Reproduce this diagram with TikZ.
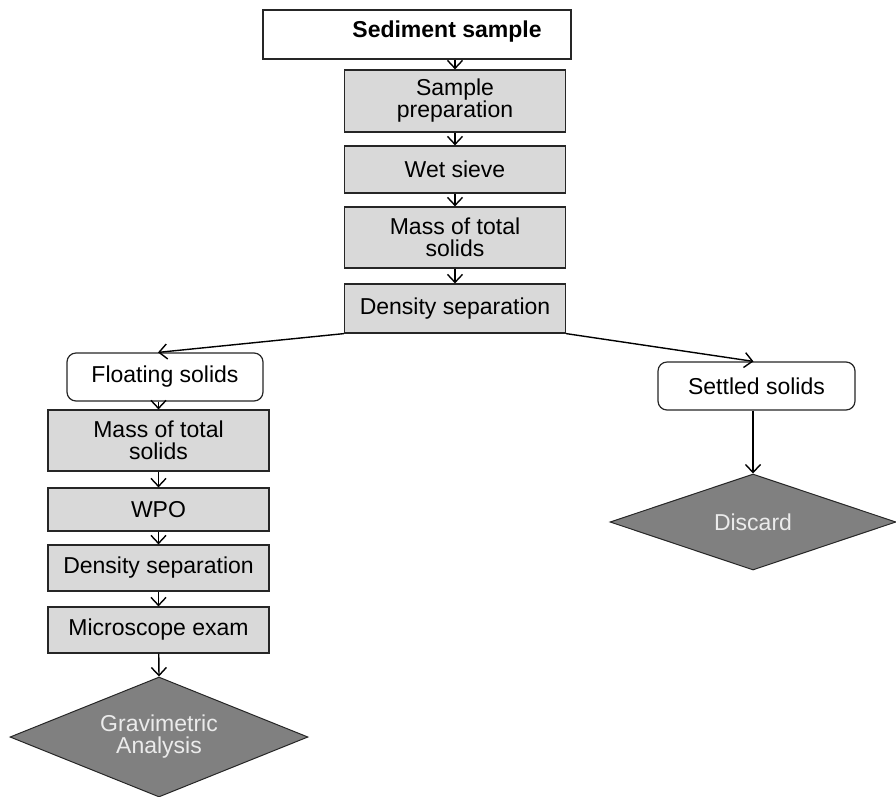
\documentclass[tikz,border=0pt]{standalone}
\usepackage{fontspec}
\setmainfont{Liberation Sans}
\usetikzlibrary{shapes.geometric,arrows.meta,calc}

\tikzset{
  boxtext/.style={font=\fontsize{23}{22}\selectfont, align=center, inner sep=0pt},
  stepbox/.style={boxtext, draw=black!85, line width=1.2pt, fill=black!15, minimum width=221pt},
  resultbox/.style={boxtext, draw=black!85, line width=1.2pt, fill=white, rounded corners=9pt, minimum width=196pt, minimum height=48pt},
  endbox/.style={boxtext, diamond, draw=black!85, line width=1pt, fill=black!50, text=black!8},
  flow/.style={line width=1.4pt, -{Straight Barb[length=8pt,width=15pt,line width=1.4pt]}}
}

\begin{document}
\begin{tikzpicture}[x=1pt,y=-1pt]
    \useasboundingbox (0,0) rectangle (896,796);

    % Main column
    \node [boxtext, draw=black!85, line width=1.2pt, minimum width=308pt, minimum height=49pt] (sed) at (417,34.5) {};
    \node [boxtext, font=\bfseries\fontsize{23}{22}\selectfont] (sedtext) at (447,32) {Sediment sample};
    \node [stepbox, minimum height=62pt] (prep) at (455,101) {Sample\\preparation};
    \node [stepbox, minimum height=47pt] (sieve) at (455,169.5) {Wet sieve};
    \node [stepbox, minimum height=61pt] (mass) at (455,237.5) {Mass of total\\solids};
    \node [stepbox, minimum height=49pt] (dens) at (455,308.5) {Density separation};

    % Split
    \node [resultbox] (float) at (165,377) {Floating solids};
    \node [resultbox, minimum width=197pt] (settled) at (756.5,386) {Settled solids};
    \node [endbox, aspect=3, minimum width=286pt, minimum height=96pt] (discard) at (753,522) {Discard};

    % Floating branch
    \node [stepbox, minimum height=61pt] (lmass) at (158.5,440.5) {Mass of total\\solids};
    \node [stepbox, minimum height=43pt] (wpo) at (158.5,509.5) {WPO};
    \node [stepbox, minimum height=46pt] (ldens) at (158.5,568) {Density separation};
    \node [stepbox, minimum height=46pt] (micro) at (158.5,630) {Microscope exam};
    \node [endbox, aspect=2.48, minimum width=298pt, minimum height=120pt] (grav) at (159,737) {Gravimetric\\Analysis};

    % Connectors
    \draw [flow] (sed.south -| prep.north) -- (prep.north);
    \draw [flow] (prep) -- (sieve);
    \draw [flow] (sieve) -- (mass);
    \draw [flow] (mass) -- (dens);
    \draw [flow] (dens.south west) -- ([xshift=-7pt]float.north);
    \draw [flow] (dens.south east) -- ([xshift=-3pt]settled.north);
    \draw [flow] (settled.south -| discard.north) -- (discard.north);
    \draw [flow] (float.south -| lmass.north) -- (lmass.north);
    \draw [flow] (lmass) -- (wpo);
    \draw [flow] (wpo) -- (ldens);
    \draw [flow] (ldens) -- (micro);
    \draw [flow] (micro) -- (grav.north);
\end{tikzpicture}
\end{document}
